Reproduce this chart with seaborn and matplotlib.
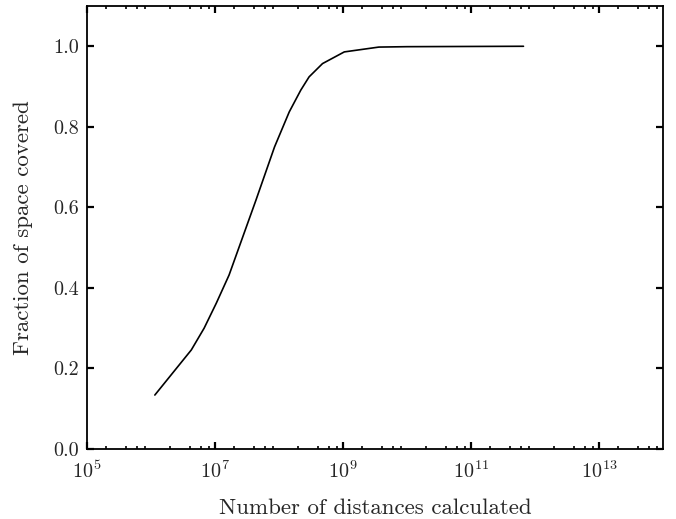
import numpy as np
import pandas as pd
import matplotlib
matplotlib.use("Agg")
import matplotlib.pyplot as plt
import matplotlib.ticker as mticker
import seaborn as sns

# data
log_distances = [6.06, 6.63, 6.83, 7.02, 7.22, 7.36, 7.64, 7.93, 8.16, 8.34,
                 8.47, 8.68, 9.02, 9.56, 10.0, 11.82]
fraction_covered = [0.134, 0.246, 0.300, 0.362, 0.432, 0.494, 0.618, 0.750,
                    0.837, 0.891, 0.924, 0.957, 0.986, 0.998, 0.999, 1.000]
x_ticks = [1e5, 1e7, 1e9, 1e11, 1e13]
y_ticks = [0.0, 0.2, 0.4, 0.6, 0.8, 1.0]

sns.set_style("ticks")
plt.rcParams["font.family"] = ["serif"]
plt.rcParams["font.serif"] = ["cmr10", "DejaVu Serif"]
plt.rcParams["mathtext.fontset"] = "cm"
plt.rcParams["axes.formatter.use_mathtext"] = True
plt.rcParams["axes.unicode_minus"] = False

df = pd.DataFrame({"distances": [10 ** v for v in log_distances],
                   "fraction": fraction_covered})

fig = plt.figure(figsize=(6.76, 5.19), dpi=100)
left, right, bottom, top = 87 / 676, 663 / 676, 1 - 449 / 519, 1 - 6 / 519
ax = fig.add_axes([left, bottom, right - left, top - bottom])
sns.lineplot(data=df, x="distances", y="fraction", ax=ax, color="black",
             linewidth=1.2, estimator=None, sort=False)
ax.set_xscale("log")
ax.set_xlim(1e5, 1e14)
ax.set_ylim(0, 1.1)
ax.set_xticks(x_ticks)
ax.xaxis.set_major_formatter(mticker.LogFormatterSciNotation())
ax.xaxis.set_minor_locator(mticker.LogLocator(base=10, subs=(2, 4, 6, 8), numticks=100))
ax.xaxis.set_minor_formatter(mticker.NullFormatter())
ax.set_yticks(y_ticks)
ax.yaxis.set_major_formatter(mticker.FormatStrFormatter("%.1f"))

ax.tick_params(which="both", direction="in", top=True, right=True, color="black")
ax.tick_params(which="major", length=5, width=1.6, labelsize=14.5)
ax.tick_params(axis="y", which="major", pad=6)
ax.tick_params(axis="x", which="major", pad=8)
ax.tick_params(which="minor", length=2.5, width=1.2)
for s in ax.spines.values():
    s.set_color("black")
    s.set_linewidth(1.3)

ax.set_xlabel("Number of distances calculated", fontsize=16.5, labelpad=12)
ax.set_ylabel("Fraction of space covered", fontsize=16.5, labelpad=14)

fig.savefig("out.png", dpi=100)
